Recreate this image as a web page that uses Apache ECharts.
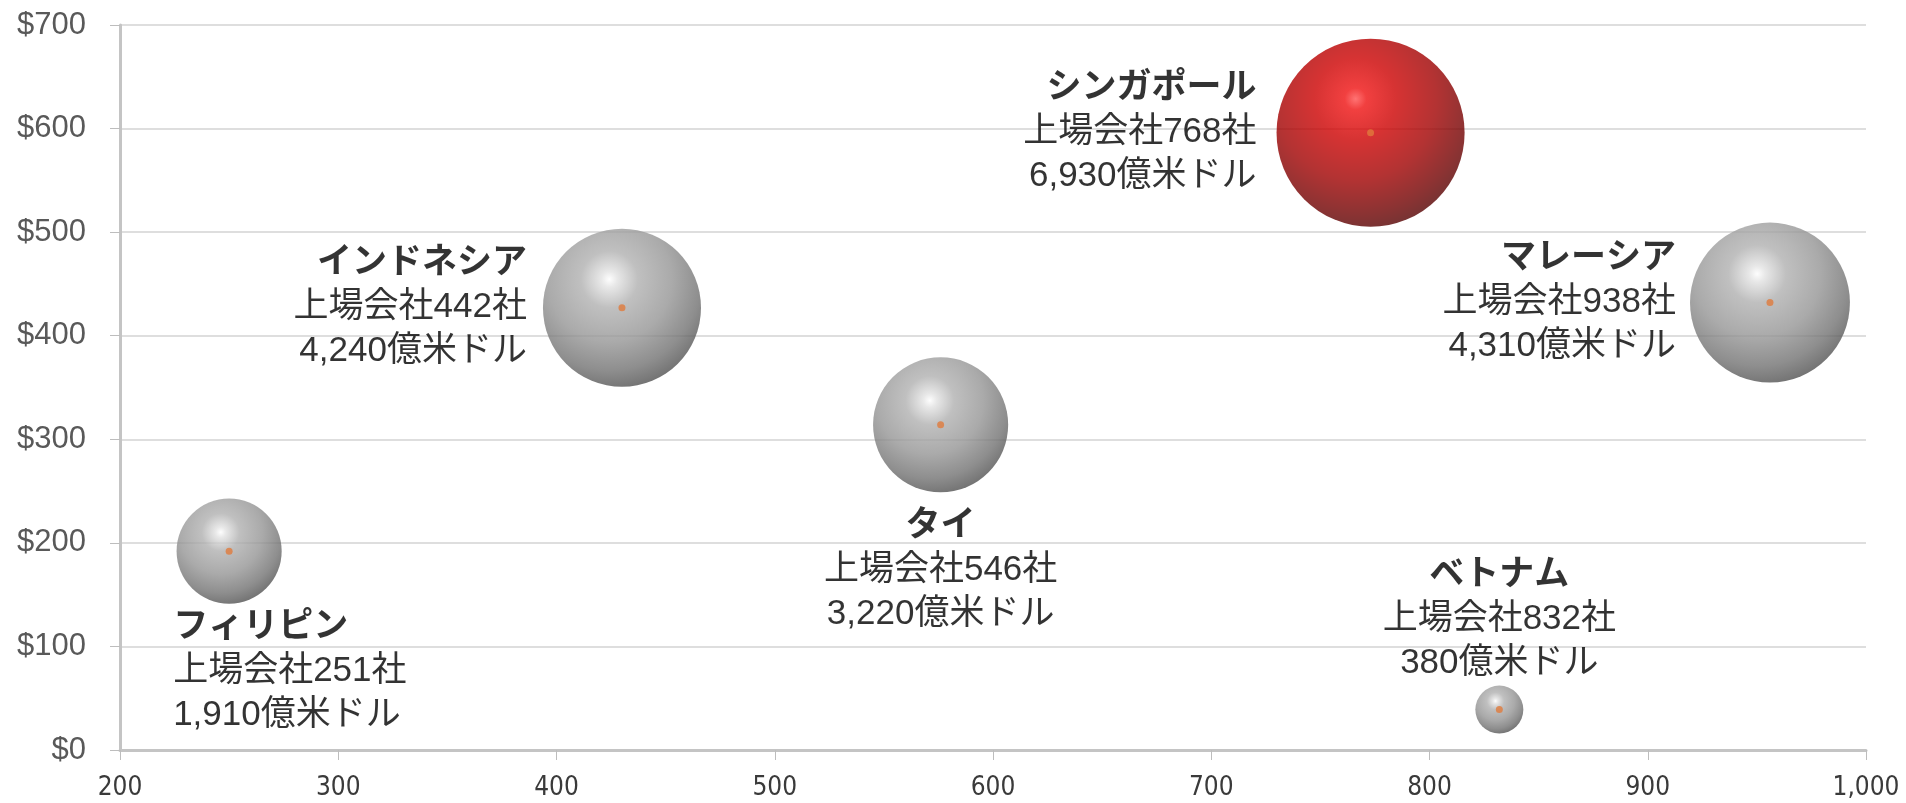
<!DOCTYPE html>
<html>
<head>
<meta charset="utf-8">
<script src="https://cdn.jsdelivr.net/npm/echarts@6/dist/echarts.min.js"></script>
<style>
  html, body { margin: 0; padding: 0; background: #fff; }
  #main { width: 1906px; height: 803px; }
</style>
</head>
<body>
<div id="main"></div>
<script>
// 国名・位置（x: 読み取り値, y: 読み取り値）
const countries = ['フィリピン', 'インドネシア', 'タイ', 'シンガポール', 'マレーシア', 'ベトナム'];
const xValues = [250, 430, 576, 773, 956, 832];
const yValues = [192, 427, 314, 596, 432, 39];
// ラベル用の数値
const companies = [251, 442, 546, 768, 938, 832];
const marketCaps = [1910, 4240, 3220, 6930, 4310, 380]; // 億米ドル
// バブルの大きさ（図から読み取った面積値）
const bubbleValues = [1870, 4230, 3090, 5990, 4330, 390];
const xTicks = [200, 1000, 100];
const yTicks = [0, 700, 100];

const labelFont = '"Liberation Sans", "Noto Sans CJK JP", sans-serif';

// ラベルの配置（国ごと）
const labelLayout = [
  { position: 'bottom', distance: 2, align: 'left', offset: [-56, 0] },
  { position: 'left', distance: 16 },
  { position: 'bottom', distance: 12 },
  { position: 'left', distance: 20 },
  { position: 'left', distance: 14 },
  { position: 'top', distance: 0 }
];

const greyBall = new echarts.graphic.RadialGradient(0.42, 0.32, 0.72, [
  { offset: 0, color: '#fdfdfd' },
  { offset: 0.07, color: '#e2e2e2' },
  { offset: 0.25, color: '#b0b0b0' },
  { offset: 0.55, color: '#959595' },
  { offset: 0.8, color: '#727272' },
  { offset: 1, color: '#4a4a4a' }
]);
const redBall = new echarts.graphic.RadialGradient(0.42, 0.32, 0.72, [
  { offset: 0, color: '#ff5050' },
  { offset: 0.08, color: '#ee1010' },
  { offset: 0.3, color: '#cc0000' },
  { offset: 0.6, color: '#a00000' },
  { offset: 0.85, color: '#6e0000' },
  { offset: 1, color: '#4e0000' }
]);

const fmt = n => n.toLocaleString('en-US');

const bubbleData = countries.map((name, i) => ({
  name: name,
  value: [xValues[i], yValues[i], bubbleValues[i]],
  itemStyle: { color: name === 'シンガポール' ? redBall : greyBall },
  label: Object.assign({
    show: true,
    formatter: '{t|' + name + '}\n{n|上場会社' + companies[i] + '社}\n{n|' + fmt(marketCaps[i]) + '億米ドル}'
  }, labelLayout[i])
}));

const myChart = echarts.init(document.getElementById('main'));

const option = {
  backgroundColor: '#ffffff',
  animation: false,
  grid: {
    left: 120,
    right: 40,
    top: 25,
    bottom: 53,
    outerBoundsMode: 'none'
  },
  xAxis: {
    type: 'value',
    min: xTicks[0],
    max: xTicks[1],
    interval: xTicks[2],
    axisLine: { show: true, lineStyle: { color: '#c4c4c4', width: 3 } },
    axisTick: { show: true, length: 10, lineStyle: { color: '#bdbdbd', width: 1 } },
    axisLabel: {
      margin: 25,
      color: '#3a3a3a',
      fontSize: 26,
      fontFamily: '"Liberation Sans Narrow", "DejaVu Sans Condensed", sans-serif',
      formatter: v => fmt(v)
    },
    splitLine: { show: false }
  },
  yAxis: {
    type: 'value',
    min: yTicks[0],
    max: yTicks[1],
    interval: yTicks[2],
    axisLine: { show: true, lineStyle: { color: '#c4c4c4', width: 3 } },
    axisTick: { show: true, length: 10, lineStyle: { color: '#bdbdbd', width: 1 } },
    axisLabel: {
      margin: 34,
      color: '#595959',
      fontSize: 31,
      fontFamily: '"Liberation Sans", Arial, sans-serif',
      formatter: v => '$' + v
    },
    splitLine: { show: true, lineStyle: { color: '#dedede', width: 2 } }
  },
  series: [
    {
      name: 'bubbles',
      type: 'scatter',
      data: bubbleData,
      symbolSize: v => 2.43 * Math.sqrt(v[2]),
      label: {
        color: '#000000',
        fontFamily: labelFont,
        rich: {
          t: { fontSize: 35, fontWeight: 'bold', lineHeight: 44, color: '#000', fontFamily: labelFont },
          n: { fontSize: 35, lineHeight: 44, color: '#000', fontFamily: labelFont }
        }
      },
      emphasis: { disabled: true },
      z: 2
    },
    {
      name: 'centers',
      type: 'scatter',
      data: xValues.map((x, i) => [x, yValues[i]]),
      symbolSize: 7,
      itemStyle: { color: '#e07a3c' },
      silent: true,
      z: 3
    }
  ]
};
myChart.setOption(option);
</script>
</body>
</html>
